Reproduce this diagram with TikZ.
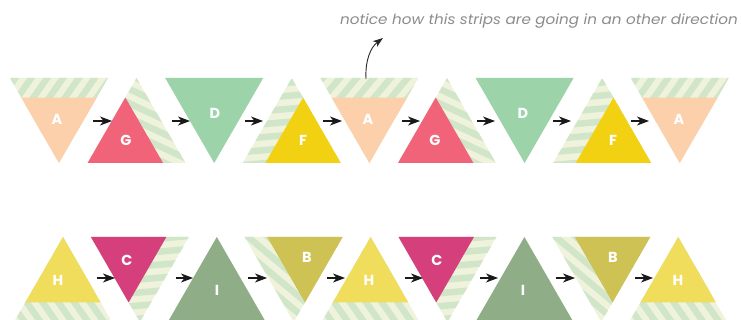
\documentclass[tikz,border=0pt]{standalone}
\usepackage{fontspec}
\setmainfont{Poppins}
\usetikzlibrary{calc,arrows.meta}
\definecolor{cream}{HTML}{EFF3DC}
\definecolor{stripegreen}{HTML}{D1E6C8}
\definecolor{peach}{HTML}{FDD0AC}
\definecolor{rose}{HTML}{F06378}
\definecolor{mint}{HTML}{9DD3A8}
\definecolor{gold}{HTML}{F2D012}
\definecolor{lemon}{HTML}{F0DD5C}
\definecolor{berry}{HTML}{D43F7C}
\definecolor{sage}{HTML}{8FAE87}
\definecolor{olivey}{HTML}{CFC255}
\definecolor{notegray}{HTML}{8C8C8C}
\newcommand{\dcoords}[2]{\coordinate (fa) at ({#1-49},#2); \coordinate (fb) at ({#1+49},#2); \coordinate (fc) at (#1,{#2+85});}
\newcommand{\ucoords}[2]{\coordinate (fa) at (#1,#2); \coordinate (fb) at ({#1-49},{#2+85}); \coordinate (fc) at ({#1+49},{#2+85});}
\newcommand{\stripedflag}[3]{%
  \begin{scope}
    \clip (fa)--(fb)--(fc)--cycle;
    \fill[cream] (fa)--(fb)--(fc)--cycle;
    \begin{scope}[shift={($(fa)!0.5!(fb)$)}, rotate=#3]
      \foreach \i in {-12,...,12} \fill[stripegreen] (-160,\i*13) rectangle (160,\i*13+6.5);
    \end{scope}
  \end{scope}
  \fill[#2] ($(f#1)!0.77!(fa)$) -- ($(f#1)!0.77!(fb)$) -- ($(f#1)!0.77!(fc)$) -- cycle;
}
\newcommand{\plainflag}[1]{\fill[#1] (fa)--(fb)--(fc)--cycle;}
\begin{document}
\begin{tikzpicture}[x=1pt,y=-1pt,
  lbl/.style={text=white,font=\fontsize{14.5}{16}\selectfont\bfseries,inner sep=0pt},
  arr/.style={line width=1.1pt,draw=black!90,-{Stealth[length=12pt,width=9pt,inset=3.5pt]}},
  note/.style={text=notegray,font=\fontsize{14}{16}\selectfont\itshape,inner sep=0pt}]
\fill[white] (0,0) rectangle (741,320);
\useasboundingbox (0,0) rectangle (741,320);
\clip (0,0) rectangle (741,320);
% top row
\dcoords{59}{78}\stripedflag{c}{peach}{55}
\ucoords{136.6}{78}\stripedflag{b}{rose}{-25}
\dcoords{214.2}{78}\plainflag{mint}
\ucoords{291.8}{78}\stripedflag{c}{gold}{5}
\dcoords{369.4}{78}\stripedflag{c}{peach}{50}
\ucoords{447}{78}\stripedflag{b}{rose}{-25}
\dcoords{524.6}{78}\plainflag{mint}
\ucoords{602.2}{78}\stripedflag{c}{gold}{5}
\dcoords{679.8}{78}\stripedflag{c}{peach}{55}
% bottom row
\ucoords{63}{237}\stripedflag{a}{lemon}{125}
\dcoords{139.9}{237}\stripedflag{a}{berry}{5}
\ucoords{216.8}{237}\plainflag{sage}
\dcoords{293.7}{237}\stripedflag{b}{olivey}{-40}
\ucoords{370.6}{237}\stripedflag{a}{lemon}{125}
\dcoords{447.5}{237}\stripedflag{a}{berry}{5}
\ucoords{524.4}{237}\plainflag{sage}
\dcoords{601.3}{237}\stripedflag{b}{olivey}{-40}
\ucoords{678.2}{237}\stripedflag{a}{lemon}{125}
% labels
\node[lbl] (t1) at (57,119) {A};
\node[lbl] (t2) at (126,140) {G};
\node[lbl] (t3) at (215,113) {D};
\node[lbl] (t4) at (303,140) {F};
\node[lbl] (t5) at (368,119) {A};
\node[lbl] (t6) at (435,140) {G};
\node[lbl] (t7) at (523,113) {D};
\node[lbl] (t8) at (613,140) {F};
\node[lbl] (t9) at (679,119) {A};
\node[lbl] (b1) at (58,280) {H};
\node[lbl] (b2) at (127,260) {C};
\node[lbl] (b3) at (217,290) {I};
\node[lbl] (b4) at (307,257) {B};
\node[lbl] (b5) at (369,280) {H};
\node[lbl] (b6) at (437,260) {C};
\node[lbl] (b7) at (523,290) {I};
\node[lbl] (b8) at (613,257) {B};
\node[lbl] (b9) at (678,280) {H};
% arrow ends
\foreach \n/\s/\e in {1/93/112,2/172/190,3/245/263,4/323/342,5/402/420,6/477/495,7/553/571,8/631/649}{
  \coordinate (ts\n) at (\s,121); \coordinate (te\n) at (\e,121);
  \draw[arr] (ts\n) -- (te\n);}
\foreach \n/\s/\e in {1/97/115,2/176/193,3/248/267,4/327/345,5/405/423,6/480/498,7/556/575,8/635/653}{
  \coordinate (bs\n) at (\s,278); \coordinate (be\n) at (\e,278);
  \draw[arr] (bs\n) -- (be\n);}
% note
\node[note,anchor=base east] (note) at (738,25) {\scalebox{1.085}[1]{notice how this strips are going in an other direction}};
\coordinate (ns) at (366,79);
\coordinate (ne) at (383,38);
\draw[line width=0.9pt,draw=black!85,-{Stealth[length=10pt,width=7pt,inset=2.5pt]}] (ns) .. controls (365,60) and (371,47) .. (ne);
\end{tikzpicture}
\end{document}
